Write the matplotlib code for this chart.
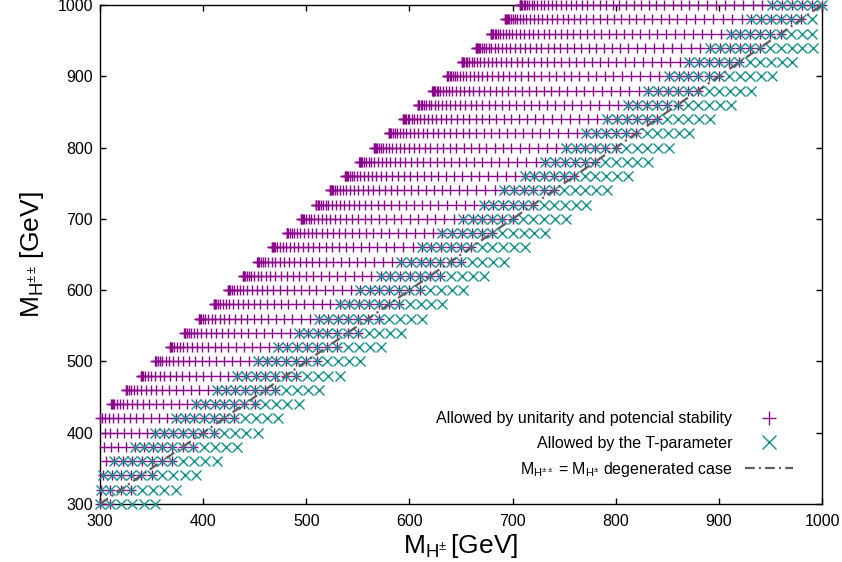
import numpy as np
import matplotlib
matplotlib.use("Agg")
import matplotlib.pyplot as plt

plt.rcParams['font.family'] = ['Liberation Sans', 'DejaVu Sans']
plt.rcParams['mathtext.fontset'] = 'custom'
plt.rcParams['mathtext.rm'] = 'Liberation Sans'
plt.rcParams['mathtext.it'] = 'Liberation Sans:italic'
plt.rcParams['mathtext.bf'] = 'Liberation Sans:bold'
plt.rcParams['lines.scale_dashes'] = False

# ---- data ----
# rows of the scan: doubly charged mass M_H++ [GeV]
m_hpp = [300, 320, 340, 360, 380, 400, 420, 440, 460, 480, 500, 520,
         540, 560, 580, 600, 620, 640, 660, 680, 700, 720, 740, 760,
         780, 800, 820, 840, 860, 880, 900, 920, 940, 960, 980, 1000]
# scan grid of the neutral mass M_H0 [GeV]
m_h0_grid = [0, 20, 40, 60, 80, 100, 120, 140, 160, 180, 200, 220, 240,
             260, 280, 300, 320, 340, 360, 380, 400, 420, 440, 460, 480,
             500, 520, 540, 560, 580, 600, 620, 640, 660, 680, 700, 720,
             740, 760, 780, 800, 820, 840, 860, 880, 900, 920, 940, 960,
             980, 1000, 1020, 1040, 1060, 1080, 1100]
# unitarity + potential stability: allowed M_H0 window per row
unit_h0_min = [0] * 36
unit_h0_max = [320, 340, 360, 380, 400, 420, 440, 460, 480, 500, 520, 540,
               560, 580, 600, 620, 640, 660, 660, 680, 700, 720, 740, 760,
               780, 800, 820, 840, 860, 880, 900, 920, 940, 960, 980, 1000]
# T-parameter: allowed M_H0 window per row
tpar_h0_min = [200, 220, 240, 260, 280, 300, 320, 340, 360, 380, 400, 420,
               440, 460, 480, 500, 520, 540, 560, 580, 600, 620, 640, 660,
               680, 700, 720, 740, 760, 780, 800, 820, 840, 860, 880, 900]
tpar_h0_max = [400, 420, 440, 460, 480, 500, 520, 540, 560, 580, 600, 620,
               640, 660, 680, 700, 720, 740, 760, 780, 800, 820, 840, 860,
               880, 900, 920, 940, 960, 980, 1000, 1020, 1040, 1060, 1080, 1100]
x_ticks = [300, 400, 500, 600, 700, 800, 900, 1000]
y_ticks = [300, 400, 500, 600, 700, 800, 900, 1000]
diag_masses = [300, 1000]

XMIN, XMAX = 300, 1000
YMIN, YMAX = 300, 1000


def points(lo, hi):
    xs, ys = [], []
    grid = np.array(m_h0_grid, dtype=float)
    for mpp, a, b in zip(m_hpp, lo, hi):
        m0 = grid[(grid >= a) & (grid <= b)]
        # mass sum rule of the triplet: 2 M_H+^2 = M_H++^2 + M_H0^2
        mp = np.sqrt((mpp ** 2 + m0 ** 2) / 2.0)
        keep = (mp >= XMIN - 1e-6) & (mp <= XMAX + 1e-6)
        xs.extend(mp[keep])
        ys.extend([mpp] * int(keep.sum()))
    return np.array(xs), np.array(ys)


xu, yu = points(unit_h0_min, unit_h0_max)
xt, yt = points(tpar_h0_min, tpar_h0_max)

fig = plt.figure(figsize=(8.42, 5.62), dpi=100)
ax = fig.add_axes([100 / 842, 1 - 504 / 562, 722 / 842, 499 / 562])

ax.plot(xu, yu, ls='none', marker='+', ms=6.5, mew=1.0, color='#8B0A8B',
        clip_on=False, zorder=3,
        label='Allowed by unitarity and potencial stability')
ax.plot(xt, yt, ls='none', marker='x', ms=6.5, mew=1.0, color='#13918A',
        clip_on=False, zorder=4, label='Allowed by the T-parameter')
ax.plot(diag_masses, diag_masses, color='#5E5E5E', lw=1.6,
        ls=(0, (7, 3, 1.5, 3)), zorder=6,
        label=r'$\mathregular{M_{H^{\pm\pm}}}$ = $\mathregular{M_{H^{\pm}}}$ degenerated case')

ax.set_xlim(XMIN, XMAX)
ax.set_ylim(YMIN, YMAX)
ax.set_xticks(x_ticks)
ax.set_yticks(y_ticks)
ax.tick_params(direction='in', length=4.5, width=1.0, top=True, right=True,
               labelsize=11.5, colors='black')
ax.tick_params(axis='x', pad=7)
ax.tick_params(axis='y', pad=5)
for s in ax.spines.values():
    s.set_linewidth(1.0)
    s.set_color('black')

ax.set_xlabel(r'$\mathregular{M_{H^{\pm}}\,}$[GeV]', fontsize=19, labelpad=2)
ax.set_ylabel(r'$\mathregular{M_{H^{\pm\pm}}\,}$[GeV]', fontsize=19, labelpad=8)

leg = ax.legend(loc='lower right', bbox_to_anchor=(0.975, 0.028),
                frameon=False, markerfirst=False, fontsize=11.5,
                handlelength=3.0, handletextpad=0.8, labelspacing=0.58,
                markerscale=1.45, borderpad=0.2)

fig.savefig('out.png', dpi=100)
